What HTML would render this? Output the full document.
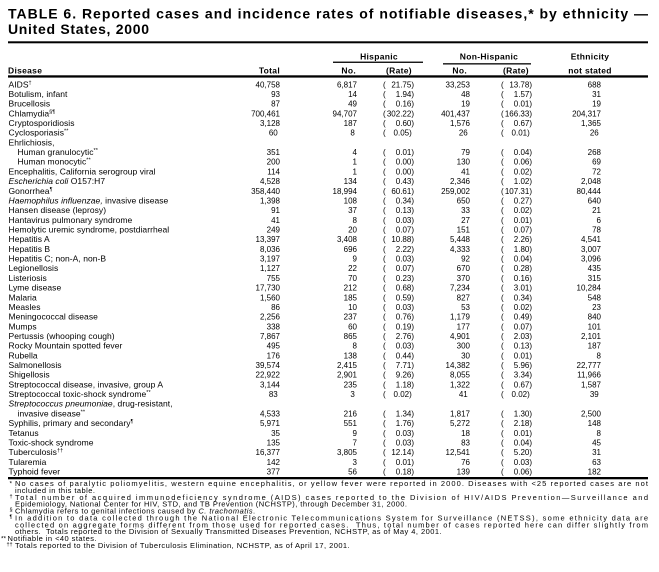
<!DOCTYPE html>
<html><head><meta charset="utf-8"><style>
html,body{margin:0;padding:0;background:#fff}
svg{display:block}
text{font-family:"Liberation Sans",Arial,Helvetica,sans-serif;fill:#000}
.t{font-size:14px;font-weight:bold}
.h{font-size:8.5px;font-weight:bold;letter-spacing:0.3px}
.d{font-size:8.5px;letter-spacing:0.05px}
.n{font-size:8px}
.f{font-size:7.5px;letter-spacing:0.45px}
.fj{font-size:7.5px}
.s{font-size:5.5px}
.i{font-style:italic}
</style></head><body>
<svg width="659" height="572" viewBox="0 0 659 572" xmlns="http://www.w3.org/2000/svg">
<rect width="659" height="572" fill="#fff"/>
<text class="t" x="8" y="18.5" textLength="640" lengthAdjust="spacing">TABLE 6. Reported cases and incidence rates of notifiable diseases,* by ethnicity —</text>
<text class="t" x="8" y="34" style="letter-spacing:0.7px">United States, 2000</text>
<rect x="8" y="41.3" width="640" height="2" fill="#000"/>
<rect x="333" y="61.6" width="90" height="1.3" fill="#000"/>
<rect x="443" y="63.2" width="88" height="1.3" fill="#000"/>
<rect x="8" y="75.3" width="640" height="2.3" fill="#000"/>
<rect x="8" y="477" width="640" height="2.3" fill="#000"/>

<text class="h" x="379" y="59.5" text-anchor="middle">Hispanic</text>
<text class="h" x="489" y="59.5" text-anchor="middle">Non-Hispanic</text>
<text class="h" x="590" y="59.5" text-anchor="middle">Ethnicity</text>
<text class="h" x="8" y="73.3">Disease</text>
<text class="h" x="280" y="73.3" text-anchor="end">Total</text>
<text class="h" x="356" y="73.3" text-anchor="end">No.</text>
<text class="h" x="386" y="73.3">(Rate)</text>
<text class="h" x="467" y="73.3" text-anchor="end">No.</text>
<text class="h" x="503" y="73.3">(Rate)</text>
<text class="h" x="590" y="73.3" text-anchor="middle">not stated</text>

<text class="d">
<tspan x="8.5" y="87.3">AIDS<tspan class="s" dy="-3">†</tspan></tspan>
<tspan x="8.5" y="97">Botulism, infant</tspan>
<tspan x="8.5" y="106.7">Brucellosis</tspan>
<tspan x="8.5" y="116.3">Chlamydia<tspan class="s" dy="-3">§¶</tspan></tspan>
<tspan x="8.5" y="126">Cryptosporidiosis</tspan>
<tspan x="8.5" y="135.7">Cyclosporiasis<tspan class="s" dy="-3">**</tspan></tspan>
<tspan x="8.5" y="145.4">Ehrlichiosis,</tspan>
<tspan x="17.5" y="155.1">Human granulocytic<tspan class="s" dy="-3">**</tspan></tspan>
<tspan x="17.5" y="164.7">Human monocytic<tspan class="s" dy="-3">**</tspan></tspan>
<tspan x="8.5" y="174.4">Encephalitis, California serogroup viral</tspan>
<tspan x="8.5" y="184.1"><tspan class="i">Escherichia coli</tspan>  O157:H7</tspan>
<tspan x="8.5" y="193.8">Gonorrhea<tspan class="s" dy="-3">¶</tspan></tspan>
<tspan x="8.5" y="203.5"><tspan class="i">Haemophilus influenzae,</tspan> invasive disease</tspan>
<tspan x="8.5" y="213.1">Hansen disease (leprosy)</tspan>
<tspan x="8.5" y="222.8">Hantavirus pulmonary syndrome</tspan>
<tspan x="8.5" y="232.5">Hemolytic uremic syndrome, postdiarrheal</tspan>
<tspan x="8.5" y="242.2">Hepatitis A</tspan>
<tspan x="8.5" y="251.9">Hepatitis B</tspan>
<tspan x="8.5" y="261.5">Hepatitis C; non-A, non-B</tspan>
<tspan x="8.5" y="271.2">Legionellosis</tspan>
<tspan x="8.5" y="280.9">Listeriosis</tspan>
<tspan x="8.5" y="290.6">Lyme disease</tspan>
<tspan x="8.5" y="300.3">Malaria</tspan>
<tspan x="8.5" y="309.9">Measles</tspan>
<tspan x="8.5" y="319.6">Meningococcal disease</tspan>
<tspan x="8.5" y="329.3">Mumps</tspan>
<tspan x="8.5" y="339">Pertussis (whooping cough)</tspan>
<tspan x="8.5" y="348.7">Rocky Mountain spotted fever</tspan>
<tspan x="8.5" y="358.3">Rubella</tspan>
<tspan x="8.5" y="368">Salmonellosis</tspan>
<tspan x="8.5" y="377.7">Shigellosis</tspan>
<tspan x="8.5" y="387.4">Streptococcal disease, invasive, group A</tspan>
<tspan x="8.5" y="397.1">Streptococcal toxic-shock syndrome<tspan class="s" dy="-3">**</tspan></tspan>
<tspan x="8.5" y="406.7"><tspan class="i">Streptococcus pneumoniae</tspan>, drug-resistant,</tspan>
<tspan x="17.5" y="416.4">invasive disease<tspan class="s" dy="-3">**</tspan></tspan>
<tspan x="8.5" y="426.1">Syphilis, primary and secondary<tspan class="s" dy="-3">¶</tspan></tspan>
<tspan x="8.5" y="435.8">Tetanus</tspan>
<tspan x="8.5" y="445.5">Toxic-shock syndrome</tspan>
<tspan x="8.5" y="455.1">Tuberculosis<tspan class="s" dy="-3">††</tspan></tspan>
<tspan x="8.5" y="464.8">Tularemia</tspan>
<tspan x="8.5" y="474.5">Typhoid fever</tspan>
</text>

<text class="n" text-anchor="end">
<tspan x="280" y="87.3">40,758</tspan><tspan x="280" y="97">93</tspan><tspan x="280" y="106.7">87</tspan><tspan x="280" y="116.3">700,461</tspan><tspan x="280" y="126">3,128</tspan><tspan x="280" y="135.7">60</tspan>
<tspan x="280" y="155.1">351</tspan><tspan x="280" y="164.7">200</tspan><tspan x="280" y="174.4">114</tspan><tspan x="280" y="184.1">4,528</tspan><tspan x="280" y="193.8">358,440</tspan><tspan x="280" y="203.5">1,398</tspan><tspan x="280" y="213.1">91</tspan><tspan x="280" y="222.8">41</tspan><tspan x="280" y="232.5">249</tspan><tspan x="280" y="242.2">13,397</tspan><tspan x="280" y="251.9">8,036</tspan><tspan x="280" y="261.5">3,197</tspan><tspan x="280" y="271.2">1,127</tspan><tspan x="280" y="280.9">755</tspan><tspan x="280" y="290.6">17,730</tspan><tspan x="280" y="300.3">1,560</tspan><tspan x="280" y="309.9">86</tspan><tspan x="280" y="319.6">2,256</tspan><tspan x="280" y="329.3">338</tspan><tspan x="280" y="339">7,867</tspan><tspan x="280" y="348.7">495</tspan><tspan x="280" y="358.3">176</tspan><tspan x="280" y="368">39,574</tspan><tspan x="280" y="377.7">22,922</tspan><tspan x="280" y="387.4">3,144</tspan><tspan x="280" y="397.1">83</tspan>
<tspan x="280" y="416.4">4,533</tspan><tspan x="280" y="426.1">5,971</tspan><tspan x="280" y="435.8">35</tspan><tspan x="280" y="445.5">135</tspan><tspan x="280" y="455.1">16,377</tspan><tspan x="280" y="464.8">142</tspan><tspan x="280" y="474.5">377</tspan>
</text>

<text class="n" text-anchor="end">
<tspan x="357" y="87.3">6,817</tspan><tspan x="357" y="97">14</tspan><tspan x="357" y="106.7">49</tspan><tspan x="357" y="116.3">94,707</tspan><tspan x="357" y="126">187</tspan><tspan x="357" y="135.7">8</tspan>
<tspan x="357" y="155.1">4</tspan><tspan x="357" y="164.7">1</tspan><tspan x="357" y="174.4">1</tspan><tspan x="357" y="184.1">134</tspan><tspan x="357" y="193.8">18,994</tspan><tspan x="357" y="203.5">108</tspan><tspan x="357" y="213.1">37</tspan><tspan x="357" y="222.8">8</tspan><tspan x="357" y="232.5">20</tspan><tspan x="357" y="242.2">3,408</tspan><tspan x="357" y="251.9">696</tspan><tspan x="357" y="261.5">9</tspan><tspan x="357" y="271.2">22</tspan><tspan x="357" y="280.9">70</tspan><tspan x="357" y="290.6">212</tspan><tspan x="357" y="300.3">185</tspan><tspan x="357" y="309.9">10</tspan><tspan x="357" y="319.6">237</tspan><tspan x="357" y="329.3">60</tspan><tspan x="357" y="339">865</tspan><tspan x="357" y="348.7">8</tspan><tspan x="357" y="358.3">138</tspan><tspan x="357" y="368">2,415</tspan><tspan x="357" y="377.7">2,901</tspan><tspan x="357" y="387.4">235</tspan><tspan x="357" y="397.1">3</tspan>
<tspan x="357" y="416.4">216</tspan><tspan x="357" y="426.1">551</tspan><tspan x="357" y="435.8">9</tspan><tspan x="357" y="445.5">7</tspan><tspan x="357" y="455.1">3,805</tspan><tspan x="357" y="464.8">3</tspan><tspan x="357" y="474.5">56</tspan>
</text>

<text class="n">
<tspan x="383" y="87.3">(</tspan><tspan x="383" y="97">(</tspan><tspan x="383" y="106.7">(</tspan><tspan x="383" y="116.3">(</tspan><tspan x="383" y="126">(</tspan><tspan x="383" y="135.7">(</tspan>
<tspan x="383" y="155.1">(</tspan><tspan x="383" y="164.7">(</tspan><tspan x="383" y="174.4">(</tspan><tspan x="383" y="184.1">(</tspan><tspan x="383" y="193.8">(</tspan><tspan x="383" y="203.5">(</tspan><tspan x="383" y="213.1">(</tspan><tspan x="383" y="222.8">(</tspan><tspan x="383" y="232.5">(</tspan><tspan x="383" y="242.2">(</tspan><tspan x="383" y="251.9">(</tspan><tspan x="383" y="261.5">(</tspan><tspan x="383" y="271.2">(</tspan><tspan x="383" y="280.9">(</tspan><tspan x="383" y="290.6">(</tspan><tspan x="383" y="300.3">(</tspan><tspan x="383" y="309.9">(</tspan><tspan x="383" y="319.6">(</tspan><tspan x="383" y="329.3">(</tspan><tspan x="383" y="339">(</tspan><tspan x="383" y="348.7">(</tspan><tspan x="383" y="358.3">(</tspan><tspan x="383" y="368">(</tspan><tspan x="383" y="377.7">(</tspan><tspan x="383" y="387.4">(</tspan><tspan x="383" y="397.1">(</tspan>
<tspan x="383" y="416.4">(</tspan><tspan x="383" y="426.1">(</tspan><tspan x="383" y="435.8">(</tspan><tspan x="383" y="445.5">(</tspan><tspan x="383" y="455.1">(</tspan><tspan x="383" y="464.8">(</tspan><tspan x="383" y="474.5">(</tspan>
</text>

<text class="n" text-anchor="end">
<tspan x="414" y="87.3">21.75)</tspan><tspan x="414" y="97">1.94)</tspan><tspan x="414" y="106.7">0.16)</tspan><tspan x="414" y="116.3">302.22)</tspan><tspan x="414" y="126">0.60)</tspan><tspan x="414" y="135.7">0.05)</tspan>
<tspan x="414" y="155.1">0.01)</tspan><tspan x="414" y="164.7">0.00)</tspan><tspan x="414" y="174.4">0.00)</tspan><tspan x="414" y="184.1">0.43)</tspan><tspan x="414" y="193.8">60.61)</tspan><tspan x="414" y="203.5">0.34)</tspan><tspan x="414" y="213.1">0.13)</tspan><tspan x="414" y="222.8">0.03)</tspan><tspan x="414" y="232.5">0.07)</tspan><tspan x="414" y="242.2">10.88)</tspan><tspan x="414" y="251.9">2.22)</tspan><tspan x="414" y="261.5">0.03)</tspan><tspan x="414" y="271.2">0.07)</tspan><tspan x="414" y="280.9">0.23)</tspan><tspan x="414" y="290.6">0.68)</tspan><tspan x="414" y="300.3">0.59)</tspan><tspan x="414" y="309.9">0.03)</tspan><tspan x="414" y="319.6">0.76)</tspan><tspan x="414" y="329.3">0.19)</tspan><tspan x="414" y="339">2.76)</tspan><tspan x="414" y="348.7">0.03)</tspan><tspan x="414" y="358.3">0.44)</tspan><tspan x="414" y="368">7.71)</tspan><tspan x="414" y="377.7">9.26)</tspan><tspan x="414" y="387.4">1.18)</tspan><tspan x="414" y="397.1">0.02)</tspan>
<tspan x="414" y="416.4">1.34)</tspan><tspan x="414" y="426.1">1.76)</tspan><tspan x="414" y="435.8">0.03)</tspan><tspan x="414" y="445.5">0.03)</tspan><tspan x="414" y="455.1">12.14)</tspan><tspan x="414" y="464.8">0.01)</tspan><tspan x="414" y="474.5">0.18)</tspan>
</text>

<text class="n" text-anchor="end">
<tspan x="470" y="87.3">33,253</tspan><tspan x="470" y="97">48</tspan><tspan x="470" y="106.7">19</tspan><tspan x="470" y="116.3">401,437</tspan><tspan x="470" y="126">1,576</tspan><tspan x="470" y="135.7">26</tspan>
<tspan x="470" y="155.1">79</tspan><tspan x="470" y="164.7">130</tspan><tspan x="470" y="174.4">41</tspan><tspan x="470" y="184.1">2,346</tspan><tspan x="470" y="193.8">259,002</tspan><tspan x="470" y="203.5">650</tspan><tspan x="470" y="213.1">33</tspan><tspan x="470" y="222.8">27</tspan><tspan x="470" y="232.5">151</tspan><tspan x="470" y="242.2">5,448</tspan><tspan x="470" y="251.9">4,333</tspan><tspan x="470" y="261.5">92</tspan><tspan x="470" y="271.2">670</tspan><tspan x="470" y="280.9">370</tspan><tspan x="470" y="290.6">7,234</tspan><tspan x="470" y="300.3">827</tspan><tspan x="470" y="309.9">53</tspan><tspan x="470" y="319.6">1,179</tspan><tspan x="470" y="329.3">177</tspan><tspan x="470" y="339">4,901</tspan><tspan x="470" y="348.7">300</tspan><tspan x="470" y="358.3">30</tspan><tspan x="470" y="368">14,382</tspan><tspan x="470" y="377.7">8,055</tspan><tspan x="470" y="387.4">1,322</tspan><tspan x="470" y="397.1">41</tspan>
<tspan x="470" y="416.4">1,817</tspan><tspan x="470" y="426.1">5,272</tspan><tspan x="470" y="435.8">18</tspan><tspan x="470" y="445.5">83</tspan><tspan x="470" y="455.1">12,541</tspan><tspan x="470" y="464.8">76</tspan><tspan x="470" y="474.5">139</tspan>
</text>

<text class="n">
<tspan x="501" y="87.3">(</tspan><tspan x="501" y="97">(</tspan><tspan x="501" y="106.7">(</tspan><tspan x="501" y="116.3">(</tspan><tspan x="501" y="126">(</tspan><tspan x="501" y="135.7">(</tspan>
<tspan x="501" y="155.1">(</tspan><tspan x="501" y="164.7">(</tspan><tspan x="501" y="174.4">(</tspan><tspan x="501" y="184.1">(</tspan><tspan x="501" y="193.8">(</tspan><tspan x="501" y="203.5">(</tspan><tspan x="501" y="213.1">(</tspan><tspan x="501" y="222.8">(</tspan><tspan x="501" y="232.5">(</tspan><tspan x="501" y="242.2">(</tspan><tspan x="501" y="251.9">(</tspan><tspan x="501" y="261.5">(</tspan><tspan x="501" y="271.2">(</tspan><tspan x="501" y="280.9">(</tspan><tspan x="501" y="290.6">(</tspan><tspan x="501" y="300.3">(</tspan><tspan x="501" y="309.9">(</tspan><tspan x="501" y="319.6">(</tspan><tspan x="501" y="329.3">(</tspan><tspan x="501" y="339">(</tspan><tspan x="501" y="348.7">(</tspan><tspan x="501" y="358.3">(</tspan><tspan x="501" y="368">(</tspan><tspan x="501" y="377.7">(</tspan><tspan x="501" y="387.4">(</tspan><tspan x="501" y="397.1">(</tspan>
<tspan x="501" y="416.4">(</tspan><tspan x="501" y="426.1">(</tspan><tspan x="501" y="435.8">(</tspan><tspan x="501" y="445.5">(</tspan><tspan x="501" y="455.1">(</tspan><tspan x="501" y="464.8">(</tspan><tspan x="501" y="474.5">(</tspan>
</text>

<text class="n" text-anchor="end">
<tspan x="532" y="87.3">13.78)</tspan><tspan x="532" y="97">1.57)</tspan><tspan x="532" y="106.7">0.01)</tspan><tspan x="532" y="116.3">166.33)</tspan><tspan x="532" y="126">0.67)</tspan><tspan x="532" y="135.7">0.01)</tspan>
<tspan x="532" y="155.1">0.04)</tspan><tspan x="532" y="164.7">0.06)</tspan><tspan x="532" y="174.4">0.02)</tspan><tspan x="532" y="184.1">1.02)</tspan><tspan x="532" y="193.8">107.31)</tspan><tspan x="532" y="203.5">0.27)</tspan><tspan x="532" y="213.1">0.02)</tspan><tspan x="532" y="222.8">0.01)</tspan><tspan x="532" y="232.5">0.07)</tspan><tspan x="532" y="242.2">2.26)</tspan><tspan x="532" y="251.9">1.80)</tspan><tspan x="532" y="261.5">0.04)</tspan><tspan x="532" y="271.2">0.28)</tspan><tspan x="532" y="280.9">0.16)</tspan><tspan x="532" y="290.6">3.01)</tspan><tspan x="532" y="300.3">0.34)</tspan><tspan x="532" y="309.9">0.02)</tspan><tspan x="532" y="319.6">0.49)</tspan><tspan x="532" y="329.3">0.07)</tspan><tspan x="532" y="339">2.03)</tspan><tspan x="532" y="348.7">0.13)</tspan><tspan x="532" y="358.3">0.01)</tspan><tspan x="532" y="368">5.96)</tspan><tspan x="532" y="377.7">3.34)</tspan><tspan x="532" y="387.4">0.67)</tspan><tspan x="532" y="397.1">0.02)</tspan>
<tspan x="532" y="416.4">1.30)</tspan><tspan x="532" y="426.1">2.18)</tspan><tspan x="532" y="435.8">0.01)</tspan><tspan x="532" y="445.5">0.04)</tspan><tspan x="532" y="455.1">5.20)</tspan><tspan x="532" y="464.8">0.03)</tspan><tspan x="532" y="474.5">0.06)</tspan>
</text>

<text class="n" text-anchor="end">
<tspan x="601" y="87.3">688</tspan><tspan x="601" y="97">31</tspan><tspan x="601" y="106.7">19</tspan><tspan x="601" y="116.3">204,317</tspan><tspan x="601" y="126">1,365</tspan><tspan x="601" y="135.7">26</tspan>
<tspan x="601" y="155.1">268</tspan><tspan x="601" y="164.7">69</tspan><tspan x="601" y="174.4">72</tspan><tspan x="601" y="184.1">2,048</tspan><tspan x="601" y="193.8">80,444</tspan><tspan x="601" y="203.5">640</tspan><tspan x="601" y="213.1">21</tspan><tspan x="601" y="222.8">6</tspan><tspan x="601" y="232.5">78</tspan><tspan x="601" y="242.2">4,541</tspan><tspan x="601" y="251.9">3,007</tspan><tspan x="601" y="261.5">3,096</tspan><tspan x="601" y="271.2">435</tspan><tspan x="601" y="280.9">315</tspan><tspan x="601" y="290.6">10,284</tspan><tspan x="601" y="300.3">548</tspan><tspan x="601" y="309.9">23</tspan><tspan x="601" y="319.6">840</tspan><tspan x="601" y="329.3">101</tspan><tspan x="601" y="339">2,101</tspan><tspan x="601" y="348.7">187</tspan><tspan x="601" y="358.3">8</tspan><tspan x="601" y="368">22,777</tspan><tspan x="601" y="377.7">11,966</tspan><tspan x="601" y="387.4">1,587</tspan><tspan x="601" y="397.1">39</tspan>
<tspan x="601" y="416.4">2,500</tspan><tspan x="601" y="426.1">148</tspan><tspan x="601" y="435.8">8</tspan><tspan x="601" y="445.5">45</tspan><tspan x="601" y="455.1">31</tspan><tspan x="601" y="464.8">63</tspan><tspan x="601" y="474.5">182</tspan>
</text>

<text style="font-size:6.5px" x="9.5" y="485.5">*</text>
<text class="fj" x="15" y="486.1" textLength="633" lengthAdjust="spacing">No cases of paralytic poliomyelitis, western equine encephalitis, or yellow fever were reported in 2000. Diseases with &lt;25 reported cases are not</text>
<text class="f" x="15" y="493">included in this table.</text>
<text class="s" x="9.5" y="498">†</text>
<text class="fj" x="15" y="499.8" textLength="633" lengthAdjust="spacing">Total number of acquired immunodeficiency syndrome (AIDS) cases reported to the Division of HIV/AIDS Prevention—Surveillance and</text>
<text class="f" x="15" y="506.7">Epidemiology, National Center for HIV, STD, and TB Prevention (NCHSTP), through December 31, 2000.</text>
<text class="s" x="9.5" y="511.7">§</text>
<text class="f" x="15" y="513.5">Chlamydia refers to genital infections caused by <tspan class="i">C. trachomatis</tspan>.</text>
<text class="s" x="9.5" y="518.6">¶</text>
<text class="fj" x="15" y="520.4" textLength="633" lengthAdjust="spacing">In addition to data collected through the National Electronic Telecommunications System for Surveillance (NETSS), some ethnicity data are</text>
<text class="fj" x="15" y="527.3" textLength="633" lengthAdjust="spacing">collected on aggregate forms different from those used for reported cases.&#160; Thus, total number of cases reported here can differ slightly from</text>
<text class="f" x="15" y="534.1">others.&#160; Totals reported to the Division of Sexually Transmitted Diseases Prevention, NCHSTP, as of May 4, 2001.</text>
<text style="font-size:6.5px" x="1" y="540.5">**</text>
<text class="f" x="7.5" y="541">Notifiable in &lt;40 states.</text>
<text class="s" x="6.5" y="546">††</text>
<text class="f" x="15" y="547.8">Totals reported to the Division of Tuberculosis Elimination, NCHSTP, as of April 17, 2001.</text>
</svg>
</body></html>
